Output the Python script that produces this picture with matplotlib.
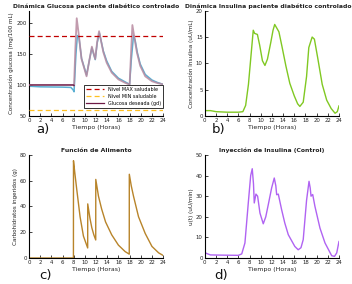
import matplotlib
matplotlib.use("Agg")
from matplotlib import pyplot as plt

# glucosa deseada (gd)
t_gd = [0, 8.0, 8.06, 8.3, 8.54, 8.9, 9.4, 10.3, 10.8, 11.25, 11.6, 11.85, 12.2, 12.54,
        13.3, 13.9, 14.8, 16.0, 17.2, 18.0, 18.25, 18.5, 18.8, 19.3, 19.9, 20.8, 22.0, 23.0, 24.0]
g_gd = [100, 100, 99, 160, 208, 182, 142, 114, 140, 162, 150, 142, 170, 187,
        153, 136, 120, 109, 103.5, 100.5, 150, 197, 180, 153, 131, 114, 106, 103, 101]

# glucosa del paciente
t_g = [0, 2, 6, 7.5, 7.9, 8.06, 8.4, 8.66, 8.95, 9.4, 10.3, 10.8, 11.25, 11.6, 11.85, 12.2, 12.6,
       13.3, 13.9, 14.8, 16.0, 17.2, 18.0, 18.3, 18.7, 19.0, 19.4, 19.9, 20.8, 22.0, 23.0, 24.0]
g = [98, 97, 96.5, 96, 92, 89, 150, 180, 176, 143, 116, 140, 160, 149, 141, 168, 184,
     155, 139, 122, 111, 105, 101, 140, 180, 172, 152, 134, 117, 108, 104, 101]

g_max = 180
g_min = 60

# insulina
t_ins = [0, 1, 2, 4, 6, 6.8, 7.3, 7.8, 8.3, 8.66, 8.9, 9.4, 9.8, 10.3, 10.75, 11.2, 11.8, 12.2, 12.5,
         13.25, 13.8, 14.5, 15.2, 16.0, 16.6, 17.0, 17.6, 18.2, 18.6, 19.2, 19.6, 20.2, 21.0, 21.8,
         22.6, 23.3, 23.7, 24.0]
ins = [1.0, 1.0, 0.8, 0.7, 0.7, 0.8, 2.0, 6.0, 12.0, 16.3, 15.7, 15.5, 13.5, 10.5, 9.6, 10.8, 14.0, 16.3, 17.4,
       16.0, 13.2, 9.5, 6.2, 3.8, 2.3, 1.8, 2.6, 7.5, 13.0, 15.0, 14.6, 11.0, 6.0, 3.0,
       1.4, 0.5, 0.8, 1.9]

# alimento
t_food = [0, 7.95, 7.96, 8.2, 8.55, 9.14, 9.74, 10.5, 10.51, 10.9, 11.24, 11.6, 11.94, 11.95,
          12.43, 13.0, 13.7, 14.8, 16.0, 17.2, 17.94, 17.95, 18.3, 18.7, 19.6, 20.8, 22.0, 23.2, 24.0]
food = [0, 0, 75.5, 66, 53, 32, 17, 7.8, 42, 31, 23.5, 18, 14, 61,
        48, 38, 28, 18, 10, 5, 3, 65, 56, 48, 32, 19, 9, 4, 2]

# inyeccion de insulina (control)
t_u = [0, 0.5, 1, 3, 6, 6.6, 7.17, 7.77, 8.2, 8.48, 8.7, 8.84, 9.14, 9.44, 9.86, 10.45, 10.9, 11.35,
       11.95, 12.42, 12.7, 12.85, 13.14, 13.74, 14.3, 14.93, 16.1, 16.7, 17.2, 17.6, 18.2, 18.64,
       18.85, 19.0, 19.3, 19.7, 20.6, 21.5, 22.7, 23.2, 23.6, 24.0]
u = [2.6, 2.0, 1.5, 1.4, 1.3, 2.0, 7.3, 26.7, 40, 43.3, 36, 26.7, 31, 30, 21.8, 16.6, 20, 25.9,
     34, 38.8, 35, 30.7, 31, 23.4, 17, 11.3, 5.6, 4.0, 5.0, 8.9, 28, 37.2,
     34, 30, 30.8, 25, 14.5, 7.3, 1.1, 0.8, 2.5, 8.0]

xticks = list(range(0, 25, 2))
txt = "#222222"


def style(ax, title, ylabel, ylim, yticks, title_x=0.5):
    ax.set_xlim(0, 24)
    ax.set_ylim(*ylim)
    ax.set_xticks(xticks)
    ax.set_yticks(yticks)
    ax.spines["top"].set_visible(False)
    ax.spines["right"].set_visible(False)
    for s in ("left", "bottom"):
        ax.spines[s].set_linewidth(0.8)
    ax.tick_params(direction="in", length=2, width=0.6, labelsize=3.9, pad=1.5, colors=txt)
    ax.set_title(title, fontsize=4.4, fontweight="bold", pad=2, color=txt, x=title_x)
    ax.set_ylabel(ylabel, fontsize=4.1, labelpad=1.5, color=txt)
    ax.set_xlabel("Tiempo (Horas)", fontsize=4.5, labelpad=1.5, color=txt)


fig = plt.figure(figsize=(3.52, 2.84), dpi=100)
ax_a = fig.add_axes([0.0824, 0.592, 0.381, 0.370])
ax_b = fig.add_axes([0.582, 0.592, 0.381, 0.370])
ax_c = fig.add_axes([0.0824, 0.0915, 0.381, 0.363])
ax_d = fig.add_axes([0.582, 0.0915, 0.381, 0.363])

# a) glucosa
ax_a.plot(t_g, g, color="#5AAFD2", lw=1.1, zorder=2)
ax_a.plot(t_gd, g_gd, color="#B88AA0", lw=1.3, alpha=0.85, zorder=3)
l_max, = ax_a.plot([0, 24], [g_max, g_max], color="#C00000", lw=0.9, ls=(0, (4, 2.5)), zorder=4)
l_min, = ax_a.plot([0, 24], [g_min, g_min], color="#FFC020", lw=0.9, ls=(0, (4, 2.5)), zorder=4)
l_gd, = ax_a.plot(t_gd[:3], g_gd[:3], color="#6E1A45", lw=0.9, zorder=4)
leg = ax_a.legend([l_max, l_min, l_gd],
                  ["Nivel MAX saludable", "Nivel MIN saludable", "Glucosa deseada (gd)"],
                  loc="lower right", bbox_to_anchor=(1.0, 0.075), fontsize=3.5, frameon=True,
                  fancybox=False, borderpad=0.4, labelspacing=0.45, handlelength=3.6,
                  handletextpad=0.9, borderaxespad=0)
leg.get_frame().set_edgecolor("black")
leg.get_frame().set_linewidth(0.7)
style(ax_a, "Dinámica Glucosa paciente diabético controlado",
      "Concentración glucosa (mg/100 mL)", (50, 220), [50, 100, 150, 200])

# b) insulina
ax_b.plot(t_ins, ins, color="#80C822", lw=1.0)
style(ax_b, "Dinámica Insulina paciente diabético controlado",
      "Concentración Insulina (uU/mL)", (0, 20), [0, 5, 10, 15, 20], title_x=0.47)

# c) alimento
ax_c.plot(t_food, food, color="#B8842A", lw=1.0)
style(ax_c, "Función de Alimento", "Carbohidratos ingeridos (g)", (0, 80), [0, 20, 40, 60, 80])

# d) control
ax_d.plot(t_u, u, color="#B063F2", lw=1.0)
style(ax_d, "Inyección de Insulina (Control)", "u(t) (uU/min)", (0, 50), [0, 10, 20, 30, 40, 50])

for lab, x, y in [("a)", 43, 129), ("b)", 219, 129), ("c)", 46, 275), ("d)", 221, 275)]:
    fig.text(x / 352, 1 - y / 284, lab, fontsize=9.5, ha="center", va="center", color="#111111")

fig.savefig("out.png", dpi=100)
